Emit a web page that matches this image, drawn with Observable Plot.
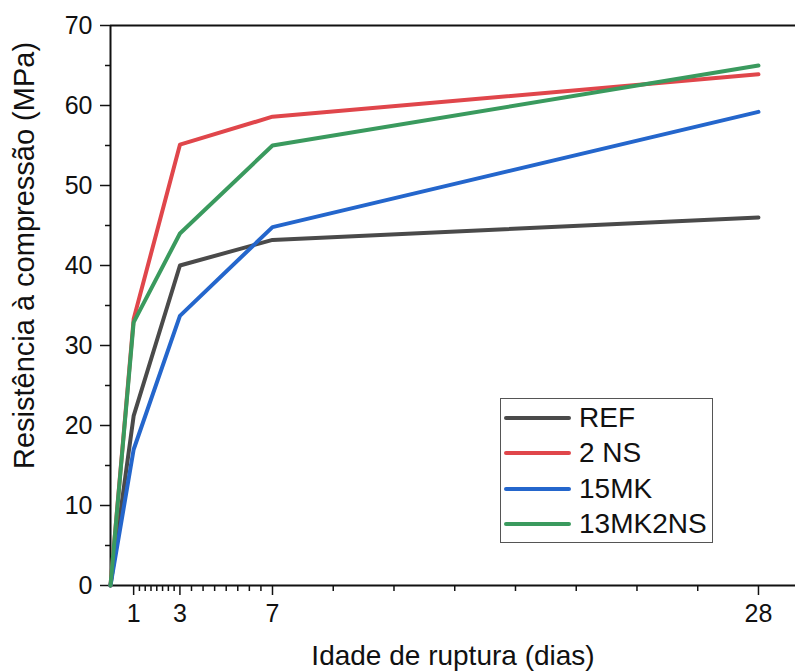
<!DOCTYPE html>
<html>
<head>
<meta charset="utf-8">
<script src="https://cdn.jsdelivr.net/npm/d3@7"></script>
<script src="https://cdn.jsdelivr.net/npm/@observablehq/plot@0.6"></script>
<style>
  html, body { margin: 0; padding: 0; background: #fff; }
  #wrap { position: relative; width: 795px; height: 671px; font-family: "Liberation Sans", Arial, sans-serif; }
  #legend { position: absolute; left: 500px; top: 398px; width: 211px; height: 143px; border: 1px solid #555; background: #fff; box-sizing: content-box; }
  .row { position: absolute; left: 0; height: 36px; display: flex; align-items: center; }
  .sw { width: 67px; height: 4px; border-radius: 2px; margin-left: 3px; }
  .lab { margin-left: 8px; font-size: 28px; color: #111; line-height: 1; }
</style>
</head>
<body>
<div id="wrap"></div>
<script>
// ---- data ----
const ages = [0, 1, 3, 7, 28];
const seriesNames = ["REF", "2 NS", "15MK", "13MK2NS"];
const refValues = [0, 21.2, 40.0, 43.2, 46.0];
const ns2Values = [0, 33.3, 55.1, 58.6, 63.9];
const mk15Values = [0, 17.0, 33.7, 44.8, 59.2];
const mk13ns2Values = [0, 32.9, 44.0, 55.0, 65.0];
const seriesColors = ["#4a4a4a", "#e0464b", "#2466cc", "#3a9a5e"];
const xTickValues = [1, 3, 7, 28];
const yTickValues = [0, 10, 20, 30, 40, 50, 60, 70];
const yMinorTickValues = [5, 15, 25, 35, 45, 55, 65];
const xTitle = "Idade de ruptura (dias)";
const yTitle = "Resistência à compressão (MPa)";

// build table
const valueLists = [refValues, ns2Values, mk15Values, mk13ns2Values];
const rows = [];
seriesNames.forEach((s, i) => ages.forEach((a, j) => rows.push({series: s, age: a, value: valueLists[i][j]})));

// minor x ticks: each interval between labelled ticks split in 8
const xMinorTickValues = [];
for (let k = 0; k < xTickValues.length - 1; k++) {
  const a = xTickValues[k], b = xTickValues[k + 1];
  for (let m = 1; m < 8; m++) xMinorTickValues.push(a + (b - a) * m / 8);
}

const font = "'Liberation Sans', Arial, sans-serif";

const chart = Plot.plot({
  width: 795,
  height: 671,
  marginLeft: 110,
  marginRight: 0,
  marginTop: 25,
  marginBottom: 86,
  style: {fontFamily: font, fontSize: "25px", color: "#111", background: "#fff"},
  x: {domain: [0, 29.6], axis: null},
  y: {domain: [0, 70], axis: null},
  color: {domain: seriesNames, range: seriesColors},
  marks: [
    Plot.axisY({ticks: yTickValues, tickSize: 10, tickPadding: 8, tickFormat: d => String(d), label: null, fontSize: 25, strokeWidth: 1.5}),
    Plot.axisY({ticks: yMinorTickValues, tickSize: 5, text: null, label: null, strokeWidth: 1.5}),
    Plot.axisX({ticks: xTickValues, tickSize: 10, tickPadding: 9, tickFormat: d => String(d), label: null, fontSize: 25, strokeWidth: 1.5}),
    Plot.axisX({ticks: xMinorTickValues, tickSize: 6, text: null, label: null, strokeWidth: 1.5}),
    Plot.ruleY([0], {stroke: "#111", strokeWidth: 2}),
    Plot.ruleY([70], {stroke: "#111", strokeWidth: 2}),
    Plot.ruleX([0], {stroke: "#111", strokeWidth: 2}),
    Plot.line(rows, {x: "age", y: "value", z: "series", stroke: "series", strokeWidth: 4, strokeLinejoin: "round", strokeLinecap: "round"}),
    Plot.text([xTitle], {frameAnchor: "bottom", textAnchor: "middle", lineAnchor: "middle", dy: 71, fontSize: 28, fill: "#111"}),
    Plot.text([yTitle], {frameAnchor: "left", textAnchor: "middle", lineAnchor: "middle", dx: -86, dy: -50, rotate: -90, fontSize: 29, fill: "#111"})
  ]
});

const wrap = document.getElementById("wrap");
wrap.appendChild(chart);

// legend (HTML overlay)
const legend = document.createElement("div");
legend.id = "legend";
const rowTops = [1, 36, 72, 107];
seriesNames.forEach((s, i) => {
  const r = document.createElement("div");
  r.className = "row";
  r.style.top = rowTops[i] + "px";
  const sw = document.createElement("div");
  sw.className = "sw";
  sw.style.background = seriesColors[i];
  const lab = document.createElement("span");
  lab.className = "lab";
  lab.textContent = s;
  r.appendChild(sw);
  r.appendChild(lab);
  legend.appendChild(r);
});
wrap.appendChild(legend);
</script>
</body>
</html>
